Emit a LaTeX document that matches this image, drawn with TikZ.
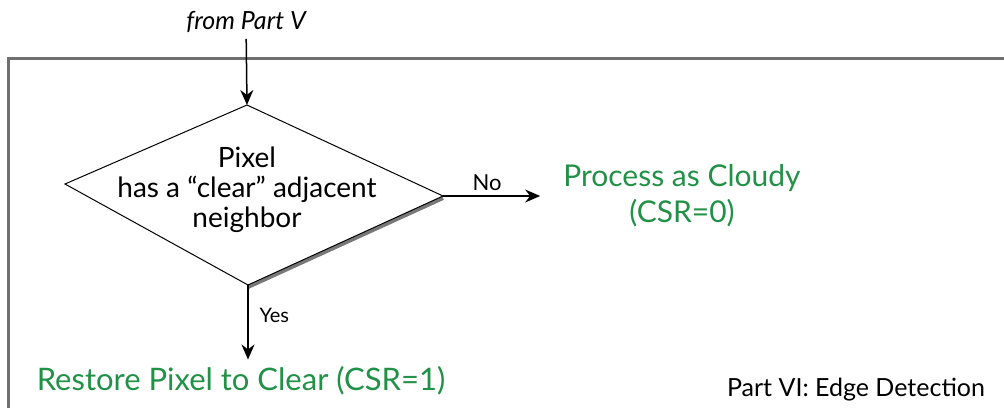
\documentclass[tikz,border=0pt]{standalone}
\usepackage{fontspec}
\setmainfont{Lato}
\usetikzlibrary{calc,arrows.meta}
\definecolor{cloudgreen}{RGB}{34,145,72}
\definecolor{framegray}{RGB}{112,112,112}
\definecolor{shadowgray}{RGB}{120,120,120}
\tikzset{
  flow/.style={line width=1.5pt, -{Stealth[length=15pt,width=13pt]}},
  outcome/.style={text=cloudgreen, align=center, inner sep=1pt},
  tag/.style={font=\fontsize{22}{26}\selectfont}
}

\begin{document}
\begin{tikzpicture}[x=1pt,y=-1pt]
			%%%%% START %%%%%
			\useasboundingbox (0,0) rectangle (1004,408);
			
			\draw[framegray, line width=3pt] (1004,58) -- (8,58) -- (8,408);
			
			\coordinate (dtop) at (247,105);
			\coordinate (dleft) at (65,184);
			\coordinate (dright) at (443,196);
			\coordinate (dbot) at (248,285);
			
			\draw[shadowgray, line width=4pt] ($(dright)+(0,2)$) -- ($(dbot)+(0,2)$);
			\draw[fill=white, line width=1pt] (dtop) -- (dright) -- (dbot) -- (dleft) -- cycle;
			\node[align=center, font=\fontsize{28}{30}\selectfont] (pixel) at (247,190) {Pixel\\has a “clear” adjacent\\neighbor};
			
			\node[font=\fontsize{25}{30}\selectfont\itshape, inner sep=1pt] (partv) at (246,22) {from Part V};
			\draw[flow, shorten <=5pt] (partv) -- (dtop);
			
			\node[outcome, font=\fontsize{30}{36}\selectfont] (cloudy) at (682,196) {Process as Cloudy\\(CSR=0)};
			\draw[flow, shorten >=22pt] (dright) -- (cloudy.west);
			\node[tag, anchor=south] (no) at (487,194) {No};
			
			\node[outcome, font=\fontsize{31}{36}\selectfont] (restore) at (241,381) {Restore Pixel to Clear (CSR=1)};
			\draw[flow, shorten >=6pt] (dbot) -- (dbot |- restore.north);
			\node[tag, anchor=west, font=\fontsize{20}{24}\selectfont] (yes) at (256,315) {Yes};
			
			\node[font=\fontsize{25}{30}\selectfont] (partvi) at (856,390) {Part VI: Edge Detection};
			%%%%% END %%%%%
\end{tikzpicture}
\end{document}
